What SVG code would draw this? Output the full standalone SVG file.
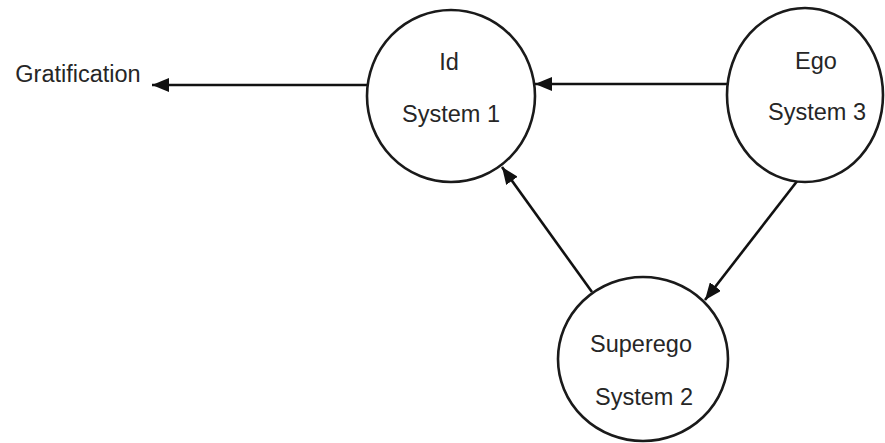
<svg xmlns="http://www.w3.org/2000/svg" width="885" height="443" viewBox="0 0 885 443">
<style>
.node{fill:#fff;stroke:#1a1a1a;stroke-width:2.6}
.lbl{font-family:"Liberation Sans",Arial,sans-serif;font-size:23.5px;fill:#262626;text-anchor:middle}
.edge{stroke:#111;stroke-width:2.6;fill:none;marker-end:url(#ah)}
</style>
<defs>
<marker id="ah" markerUnits="userSpaceOnUse" markerWidth="17" markerHeight="14" refX="17" refY="7" orient="auto">
<path d="M0,0 L17,7 L0,14 z" fill="#111"/>
</marker>
</defs>
<rect width="885" height="443" fill="#fff"/>
<g id="connectors">
<line class="edge" x1="367" y1="85" x2="152" y2="85"/>
<line class="edge" x1="727" y1="84" x2="535" y2="84"/>
<line class="edge" x1="592" y1="292" x2="502" y2="167"/>
<line class="edge" x1="798" y1="180" x2="705" y2="300"/>
</g>
<g id="gratification">
<text class="lbl" x="78" y="82">Gratification</text>
</g>
<g id="id">
<ellipse class="node" cx="451" cy="96" rx="84" ry="86"/>
<text class="lbl" x="449" y="70">Id</text>
<text class="lbl" x="451" y="122">System 1</text>
</g>
<g id="ego">
<ellipse class="node" cx="805" cy="95" rx="78" ry="87"/>
<text class="lbl" x="816" y="69">Ego</text>
<text class="lbl" x="817" y="120">System 3</text>
</g>
<g id="superego">
<ellipse class="node" cx="643" cy="359" rx="85" ry="82"/>
<text class="lbl" x="641" y="352">Superego</text>
<text class="lbl" x="644" y="405">System 2</text>
</g>
</svg>
